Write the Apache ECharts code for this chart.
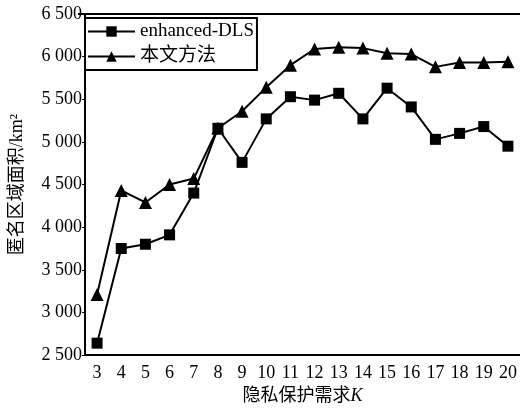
<!DOCTYPE html>
<html>
<head>
<meta charset="utf-8">
<script src="https://cdn.jsdelivr.net/npm/echarts@6/dist/echarts.min.js"></script>
<style>
  html, body { margin: 0; padding: 0; background: #fff; }
  #main { width: 520px; height: 410px; }
</style>
</head>
<body>
<div id="main"></div>
<script>
// 隐私保护需求 K
const kValues = ['3', '4', '5', '6', '7', '8', '9', '10', '11', '12', '13', '14', '15', '16', '17', '18', '19', '20']
// enhanced-DLS 匿名区域面积
const dlsArea = [2640, 3750, 3800, 3910, 4400, 5160, 4760, 5270, 5530, 5490, 5570, 5270, 5630, 5410, 5030, 5100, 5180, 4950]
// 本文方法
const oursArea = [3210, 4430, 4290, 4500, 4570, 5160, 5360, 5640, 5900, 6090, 6110, 6100, 6040, 6030, 5880, 5930, 5930, 5940]
const seriesNames = ['enhanced-DLS', '本文方法']

const serif = '"Liberation Serif", "Noto Sans CJK SC", serif'
let myChart = echarts.init(document.getElementById('main'))

let option = {
  backgroundColor: '#fff',
  animation: false,
  textStyle: { fontFamily: serif, color: '#000' },
  grid: {
    left: 78,
    top: 14,
    width: 448,
    height: 349
  },
  legend: {
    left: 85,
    top: 18,
    orient: 'vertical',
    data: seriesNames,
    itemWidth: 47,
    itemHeight: 13,
    itemGap: 6,
    padding: [4, 3, 4, 2],
    borderColor: '#000',
    borderWidth: 2,
    textStyle: { fontFamily: serif, fontSize: 19, color: '#000' }
  },
  xAxis: {
    type: 'category',
    data: kValues,
    boundaryGap: true,
    name: '{a|隐私保护需求}{b|K}',
    nameLocation: 'middle',
    nameGap: 31,
    nameTextStyle: {
      rich: {
        a: { fontFamily: serif, fontSize: 18, color: '#000' },
        b: { fontFamily: serif, fontSize: 18, fontStyle: 'italic', color: '#000' }
      }
    },
    axisLine: { lineStyle: { color: '#000', width: 2 } },
    axisTick: { inside: true, alignWithLabel: true, length: 4, lineStyle: { color: '#000' } },
    axisLabel: { fontFamily: serif, fontSize: 18, color: '#000', margin: 9 },
    splitLine: { show: false }
  },
  yAxis: {
    type: 'value',
    min: 2500,
    max: 6500,
    interval: 500,
    name: '匿名区域面积/km²',
    nameLocation: 'middle',
    nameGap: 59,
    nameTextStyle: { fontFamily: serif, fontSize: 18, color: '#000' },
    axisLine: { show: true, lineStyle: { color: '#000', width: 2 } },
    axisTick: { show: true, inside: false, length: 3, lineStyle: { color: '#000' } },
    axisLabel: {
      fontFamily: serif,
      fontSize: 18,
      color: '#000',
      margin: 3,
      formatter: function (v) {
        let s = String(v)
        return s.length > 3 ? s.slice(0, s.length - 3) + ' ' + s.slice(-3) : s
      }
    },
    splitLine: { show: false }
  },
  series: [
    {
      name: seriesNames[0],
      type: 'line',
      data: dlsArea,
      symbol: 'rect',
      symbolSize: 11,
      itemStyle: { color: '#000' },
      lineStyle: { color: '#000', width: 2 }
    },
    {
      name: seriesNames[1],
      type: 'line',
      data: oursArea,
      symbol: 'triangle',
      symbolSize: 13,
      itemStyle: { color: '#000' },
      lineStyle: { color: '#000', width: 2 }
    }
  ],
  graphic: []
}
myChart.setOption(option)

// 上边框
let topY = myChart.convertToPixel({ yAxisIndex: 0 }, 6500)
myChart.setOption({
  graphic: [{
    type: 'line',
    shape: { x1: 78, y1: topY, x2: 526, y2: topY },
    style: { stroke: '#000', lineWidth: 2 }
  }]
})
</script>
</body>
</html>
